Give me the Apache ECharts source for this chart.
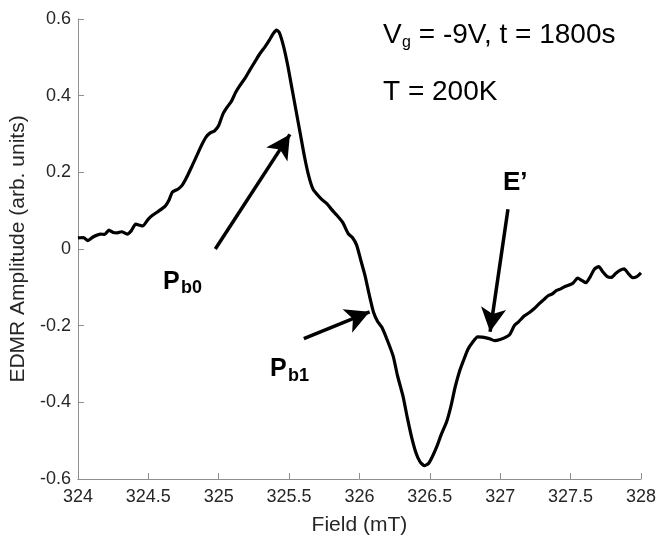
<!DOCTYPE html>
<html>

<head>
    <meta charset="utf-8">
    <title>EDMR spectrum</title>
    <script src="https://cdn.jsdelivr.net/npm/echarts@6.0.0/dist/echarts.min.js"></script>
    <style>
        body {
            margin: 0;
            background: #fff;
        }
    </style>
</head>

<body>
    <div id="main" style="width: 659px;height:541px;"></div>

    <script type="text/javascript">
        // 磁场 (mT)
        const fieldValues = [
            324.00, 324.04, 324.07, 324.11, 324.16, 324.19, 324.22, 324.25, 324.28, 324.31,
            324.35, 324.38, 324.41, 324.44, 324.46, 324.50, 324.53, 324.57, 324.62, 324.65,
            324.67, 324.71, 324.74, 324.77, 324.81, 324.85, 324.88, 324.91, 324.94, 324.97,
            325.00, 325.03, 325.06, 325.09, 325.12, 325.15, 325.19, 325.22, 325.26, 325.29,
            325.33, 325.36, 325.39, 325.41, 325.43, 325.46, 325.49, 325.52, 325.55, 325.58,
            325.61, 325.64, 325.67, 325.70, 325.73, 325.77, 325.80, 325.84, 325.88, 325.92,
            325.95, 325.98, 326.01, 326.04, 326.07, 326.10, 326.13, 326.16, 326.20, 326.24,
            326.27, 326.31, 326.34, 326.37, 326.40, 326.43, 326.46, 326.49, 326.52, 326.55,
            326.58, 326.62, 326.65, 326.68, 326.71, 326.74, 326.77, 326.80, 326.84, 326.87,
            326.90, 326.93, 326.96, 327.00, 327.04, 327.07, 327.10, 327.13, 327.17, 327.21,
            327.24, 327.27, 327.31, 327.34, 327.37, 327.40, 327.43, 327.46, 327.49, 327.52,
            327.55, 327.58, 327.61, 327.64, 327.67, 327.70, 327.73, 327.76, 327.79, 327.82,
            327.85, 327.88, 327.91, 327.94, 327.97, 328.00
        ];

        // EDMR 幅度 (arb. units)
        const amplitudeValues = [
            0.029, 0.030, 0.022, 0.032, 0.039, 0.038, 0.049, 0.043, 0.042, 0.045,
            0.039, 0.048, 0.065, 0.062, 0.060, 0.078, 0.088, 0.098, 0.112, 0.130,
            0.148, 0.156, 0.166, 0.185, 0.216, 0.248, 0.272, 0.292, 0.303, 0.308,
            0.322, 0.352, 0.370, 0.385, 0.408, 0.426, 0.447, 0.466, 0.490, 0.508,
            0.528, 0.545, 0.563, 0.571, 0.565, 0.530, 0.480, 0.420, 0.360, 0.300,
            0.240, 0.190, 0.156, 0.142, 0.130, 0.118, 0.104, 0.088, 0.070, 0.040,
            0.030, 0.010, -0.030, -0.070, -0.120, -0.165, -0.190, -0.205, -0.240, -0.280,
            -0.330, -0.385, -0.440, -0.490, -0.530, -0.555, -0.565, -0.560, -0.540, -0.515,
            -0.485, -0.450, -0.410, -0.360, -0.320, -0.290, -0.262, -0.245, -0.229, -0.230,
            -0.232, -0.235, -0.239, -0.236, -0.230, -0.222, -0.200, -0.190, -0.175, -0.165,
            -0.156, -0.145, -0.132, -0.122, -0.117, -0.108, -0.104, -0.098, -0.094, -0.088,
            -0.076, -0.082, -0.088, -0.072, -0.052, -0.046, -0.060, -0.072, -0.074, -0.064,
            -0.056, -0.052, -0.064, -0.075, -0.072, -0.062
        ];

        // 箭头: [起点, 终点] (数据坐标)
        const arrowPb0 = [[324.976, 0.0], [325.506, 0.299]];
        const arrowPb1 = [[325.605, -0.234], [326.072, -0.164]];
        const arrowE = [[327.055, 0.104], [326.928, -0.216]];

        const fontName = '"Liberation Sans", Arial, sans-serif';
        const axisColor = '#8f8f8f';
        const textColor = '#262626';

        var myChart = echarts.init(document.getElementById('main'));

        const curve = fieldValues.map((x, i) => [x, amplitudeValues[i]]);
        const toMarkLine = (a) => [{ coord: a[0] }, { coord: a[1] }];

        // 文字注释
        function txt(x, y, text, size, bold) {
            return {
                type: 'text',
                x: x,
                y: y,
                style: {
                    text: text,
                    fill: '#000',
                    font: (bold ? 'bold ' : '') + size + 'px ' + fontName,
                    verticalAlign: 'middle',
                    align: 'left'
                }
            };
        }

        var option = {
            animation: false,
            backgroundColor: '#fff',
            textStyle: { fontFamily: fontName },
            grid: {
                left: 75,
                top: 19,
                width: 566,
                height: 463,
                containLabel: false
            },
            xAxis: {
                type: 'value',
                min: 324,
                max: 328,
                interval: 0.5,
                name: 'Field (mT)',
                nameLocation: 'middle',
                nameGap: 36,
                nameTextStyle: { color: textColor, fontSize: 21, fontFamily: fontName },
                axisLine: { show: true, onZero: false, lineStyle: { color: axisColor, width: 1 } },
                axisTick: { show: true, inside: true, length: 6, lineStyle: { color: axisColor } },
                axisLabel: { color: textColor, fontSize: 18, margin: 9, fontFamily: fontName },
                splitLine: { show: false }
            },
            yAxis: {
                type: 'value',
                min: -0.6,
                max: 0.6,
                interval: 0.2,
                name: 'EDMR Amplitude (arb. units)',
                nameLocation: 'middle',
                nameGap: 40,
                nameTextStyle: { color: textColor, fontSize: 21, fontFamily: fontName },
                axisLine: { show: true, onZero: false, lineStyle: { color: axisColor, width: 1 } },
                axisTick: { show: true, inside: true, length: 6, lineStyle: { color: axisColor } },
                axisLabel: {
                    color: textColor,
                    fontSize: 18,
                    margin: 7,
                    fontFamily: fontName,
                    formatter: v => String(+v.toFixed(1))
                },
                splitLine: { show: false }
            },
            series: [{
                type: 'line',
                data: curve,
                showSymbol: false,
                smooth: 0.2,
                lineStyle: { color: '#000', width: 3.2 },
                markLine: {
                    silent: true,
                    symbol: ['none', 'arrow'],
                    symbolSize: [19, 24],
                    label: { show: false },
                    lineStyle: { color: '#000', width: 3.5, type: 'solid' },
                    data: [toMarkLine(arrowPb0), toMarkLine(arrowPb1), toMarkLine(arrowE)]
                }
            }],
            graphic: {
                elements: [
                    txt(383, 35, 'V', 28, false),
                    txt(402, 43, 'g', 16, false),
                    txt(411, 35, ' = -9V, t = 1800s', 28, false),
                    txt(383, 92, 'T = 200K', 28, false),
                    txt(163, 282, 'P', 25, true),
                    txt(181, 288, 'b0', 18, true),
                    txt(270, 369, 'P', 25, true),
                    txt(288, 376, 'b1', 18, true),
                    txt(503, 183, 'E\u2019', 26, true)
                ]
            }
        };

        myChart.setOption(option);
    </script>
</body>

</html>
